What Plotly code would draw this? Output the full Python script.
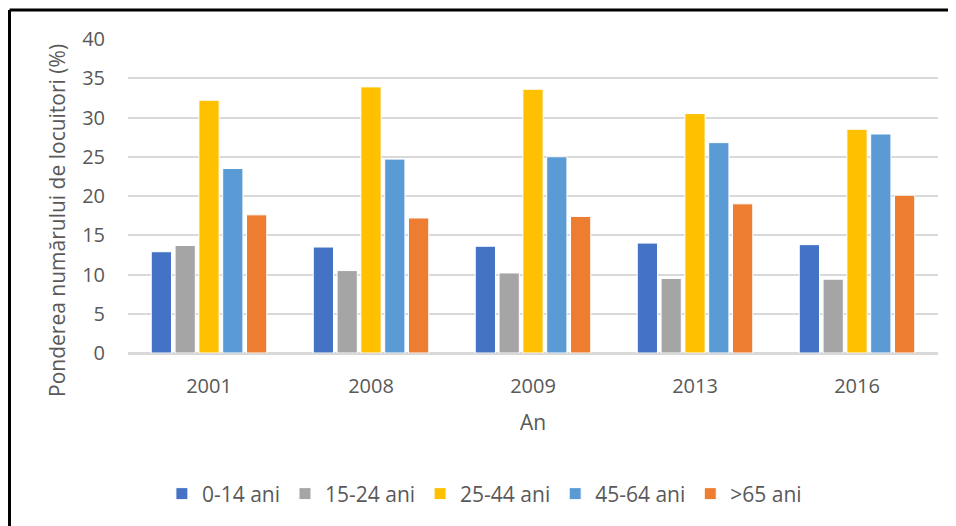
import plotly.graph_objects as go

# Data
years = ["2001", "2008", "2009", "2013", "2016"]
age_groups = ["0-14 ani", "15-24 ani", "25-44 ani", "45-64 ani", ">65 ani"]

v_0_14 = [12.9, 13.5, 13.6, 14.0, 13.8]
v_15_24 = [13.7, 10.5, 10.2, 9.5, 9.4]
v_25_44 = [32.2, 33.9, 33.6, 30.5, 28.5]
v_45_64 = [23.5, 24.7, 25.0, 26.8, 27.9]
v_65 = [17.6, 17.2, 17.4, 19.0, 20.1]

y_ticks = [0, 5, 10, 15, 20, 25, 30, 35, 40]

COLORS = ["#4472C4", "#A5A5A5", "#FFC000", "#5B9BD5", "#ED7D31"]
FONT = "Open Sans, sans-serif"
TEXT = "#595959"
GRID = "#D9D9D9"

series = [v_0_14, v_15_24, v_25_44, v_45_64, v_65]

fig = go.Figure()
for name, vals, col in zip(age_groups, series, COLORS):
    fig.add_trace(go.Bar(
        name=name,
        x=years,
        y=vals,
        marker=dict(color=col, line=dict(color="white", width=1)),
    ))

# page body has an 8px margin, so the figure is shrunk by that much
fig.update_layout(
    width=948, height=518,
    barmode="group",
    bargap=0.265,
    bargroupgap=0.15,
    paper_bgcolor="white",
    plot_bgcolor="white",
    font=dict(family=FONT, color=TEXT, size=20),
    margin=dict(l=120, r=18, t=31, b=173),
    showlegend=True,
    legend=dict(
        orientation="h",
        x=0.44, xanchor="center",
        y=-0.449, yanchor="middle",
        font=dict(size=21, color=TEXT),
        itemwidth=30,
        traceorder="normal",
    ),
)

fig.update_yaxes(
    range=[0, 40],
    tickvals=y_ticks,
    showgrid=True, gridcolor=GRID, gridwidth=1.5,
    zeroline=True, zerolinecolor=GRID, zerolinewidth=1.5,
    ticklabelstandoff=22,
)
fig.update_xaxes(
    showline=True, linecolor=GRID, linewidth=1.5,
    ticklabelstandoff=14,
    title=dict(text="An", font=dict(size=21, color=TEXT), standoff=18),
)

# y title sits a bit below the plot centre in the reference
fig.add_annotation(
    text="Ponderea numărului de locuitori (%)",
    xref="paper", yref="paper", x=-0.0877, y=0.4236,
    xanchor="center", yanchor="middle",
    textangle=-90, showarrow=False,
    font=dict(size=21, color=TEXT),
)

# chart frame (only top and left edges visible in the reference)
fig.add_shape(type="line", xref="paper", yref="paper",
              x0=-0.1463, x1=1.04, y0=1.0924, y1=1.0924,
              line=dict(color="black", width=3))
fig.add_shape(type="line", xref="paper", yref="paper",
              x0=-0.1463, x1=-0.1463, y0=1.0924, y1=-0.6,
              line=dict(color="black", width=3))

fig.write_html("out.html")
